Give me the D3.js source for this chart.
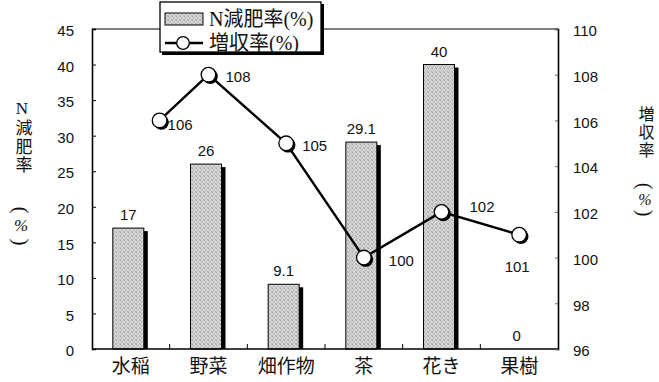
<!DOCTYPE html>
<html>
<head>
<meta charset="utf-8">
<script src="https://cdn.jsdelivr.net/npm/d3@7"></script>
<style>
  html, body { margin: 0; padding: 0; background: #fff; }
  svg { display: block; }
</style>
</head>
<body>
<svg id="chart" width="659" height="382"></svg>
<script>
// Crop categories and the two measured series
const categories = ["水稲", "野菜", "畑作物", "茶", "花き", "果樹"];
const nReduction = [17, 26, 9.1, 29.1, 40, 0];          // N減肥率(%) – bars, left axis
const yieldRate = [106, 108, 105, 100, 102, 101];       // 増収率(%) – line, right axis
const leftTicks = [0, 5, 10, 15, 20, 25, 30, 35, 40, 45];
const rightTicks = [96, 98, 100, 102, 104, 106, 108, 110];
const barLabels = ["17", "26", "9.1", "29.1", "40", "0"];
const lineLabels = ["106", "108", "105", "100", "102", "101"];

const svg = d3.select("#chart");
const m = { left: 92, right: 558, top: 29, bottom: 349 };
const numFont = "'Liberation Sans', Arial, sans-serif";
const jpFont = "'Liberation Serif', 'Noto Sans CJK JP', serif";

const x = d3.scaleBand().domain(categories).range([m.left, m.right]);
const y = d3.scaleLinear().domain([0, 45]).range([m.bottom, m.top]);
const y2 = d3.scaleLinear().domain([96, 110]).range([m.bottom, m.top]);
const bw = x.bandwidth();

// stippled grey fill for the bars (scattered dots on light grey)
const defs = svg.append("defs");
const pat = defs.append("pattern").attr("id", "stipple")
  .attr("patternUnits", "userSpaceOnUse").attr("width", 4).attr("height", 4);
pat.append("rect").attr("width", 4).attr("height", 4).attr("fill", "#d8d8d8");
[[0, 0, "#9c9c9c"], [2, 1, "#b4b4b4"], [1, 2, "#a8a8a8"], [3, 3, "#b0b0b0"], [3, 0, "#c2c2c2"], [0, 3, "#c0c0c0"]]
  .forEach(([px, py, col]) => pat.append("rect").attr("x", px).attr("y", py)
    .attr("width", 1).attr("height", 1).attr("fill", col));

// bars with a dark drop shadow on the right
const barW = 31, shadowW = 4;
const barX = c => x(c) + (bw - barW - shadowW) / 2 - 0.5;
const bars = svg.append("g");
categories.forEach((c, i) => {
  const v = nReduction[i];
  if (v <= 0) return;
  bars.append("rect")
    .attr("x", barX(c) + barW - 1).attr("y", y(v) + 3)
    .attr("width", shadowW + 1).attr("height", y(0) - y(v) - 3)
    .attr("fill", "#000");
  bars.append("rect")
    .attr("x", barX(c)).attr("y", y(v))
    .attr("width", barW).attr("height", y(0) - y(v))
    .attr("fill", "url(#stipple)").attr("stroke", "#000").attr("stroke-width", 1);
});

// value labels over bars
svg.append("g").selectAll("text").data(categories).join("text")
  .attr("x", c => barX(c) + barW / 2)
  .attr("y", (c, i) => y(nReduction[i]) - 8)
  .attr("text-anchor", "middle")
  .attr("font-family", numFont).attr("font-size", 15).attr("fill", "#111")
  .text((c, i) => barLabels[i]);

// frame and axes
const frame = svg.append("g").attr("fill", "none").attr("stroke", "#000");
frame.append("line").attr("x1", m.left).attr("x2", m.right).attr("y1", m.top).attr("y2", m.top).attr("stroke-width", 1.2);
frame.append("line").attr("x1", m.left).attr("x2", m.right).attr("y1", m.bottom).attr("y2", m.bottom).attr("stroke-width", 1.6);

const leftAxis = svg.append("g").attr("transform", `translate(${m.left},0)`)
  .call(d3.axisLeft(y).tickValues(leftTicks).tickSize(-4).tickPadding(18).tickFormat(d3.format("d")));
const rightAxis = svg.append("g").attr("transform", `translate(${m.right},0)`)
  .call(d3.axisRight(y2).tickValues(rightTicks).tickSize(-3).tickPadding(15).tickFormat(d3.format("d")));
[leftAxis, rightAxis].forEach(a => {
  a.select(".domain").attr("stroke", "#000").attr("stroke-width", 1.6);
  a.selectAll(".tick line").attr("stroke", "#000").attr("stroke-width", 1);
  a.selectAll(".tick text").attr("font-family", numFont).attr("font-size", 15).attr("fill", "#111").attr("dy", "0.45em");
});
rightAxis.selectAll(".tick line").attr("stroke", "#666");

// category axis: short upward ticks between groups
const xAxis = svg.append("g").attr("transform", `translate(0,${m.bottom})`)
  .call(d3.axisBottom(x).tickSize(0).tickPadding(10));
xAxis.select(".domain").remove();
xAxis.selectAll(".tick text").attr("font-family", "'Noto Sans CJK JP', sans-serif")
  .attr("font-size", 19).attr("fill", "#111").attr("dy", "0.75em");
svg.append("g").selectAll("line").data(categories.slice(1)).join("line")
  .attr("x1", c => x(c)).attr("x2", c => x(c))
  .attr("y1", m.bottom).attr("y2", m.bottom - 5)
  .attr("stroke", "#000").attr("stroke-width", 1);

// yield line (first point sits a little right of its group)
const pointNudge = [0.37, 0, 0, 0, 0, 0];
const px = i => x(categories[i]) + bw / 2 + pointNudge[i] * bw;
const pts = yieldRate.map((v, i) => [px(i), y2(v)]);
svg.append("path").attr("d", d3.line()(pts))
  .attr("fill", "none").attr("stroke", "#000").attr("stroke-width", 2.4);
const dots = svg.append("g");
pts.forEach(p => {
  dots.append("circle").attr("cx", p[0] + 1.8).attr("cy", p[1] + 1.8).attr("r", 7.5).attr("fill", "#000");
  dots.append("circle").attr("cx", p[0]).attr("cy", p[1]).attr("r", 7.3)
    .attr("fill", "#fff").attr("stroke", "#000").attr("stroke-width", 1.3);
});

// yield labels, placed beside their points
const labelOffset = [[8, 4, "start"], [17, 2, "start"], [16, 2, "start"], [25, 3, "start"], [28, -5, "start"], [-2, 32, "middle"]];
svg.append("g").selectAll("text").data(pts).join("text")
  .attr("x", (p, i) => p[0] + labelOffset[i][0])
  .attr("y", (p, i) => p[1] + labelOffset[i][1])
  .attr("dy", "0.36em")
  .attr("text-anchor", (p, i) => labelOffset[i][2])
  .attr("font-family", numFont).attr("font-size", 15).attr("fill", "#111")
  .text((p, i) => lineLabels[i]);

// vertical axis titles: stacked characters, then "(%)" with the brackets turned
function verticalTitle(str, cx, top, size, spacing) {
  svg.append("text").attr("x", cx).attr("y", top)
    .style("writing-mode", "vertical-rl").style("text-orientation", "upright")
    .attr("letter-spacing", spacing)
    .attr("font-family", jpFont).attr("font-size", size).attr("fill", "#111")
    .text(str);
}
function percentUnit(cx, yOpen, yPct, yClose, size) {
  const g = svg.append("g").attr("font-family", "'Liberation Serif', serif").attr("fill", "#111");
  g.append("text").attr("transform", `translate(${cx},${yOpen}) rotate(90)`)
    .attr("text-anchor", "middle").attr("dominant-baseline", "central")
    .attr("font-size", size * 1.25).text("(");
  g.append("text").attr("x", cx).attr("y", yPct)
    .attr("text-anchor", "middle").attr("dominant-baseline", "central")
    .attr("font-size", size).attr("font-style", "italic").text("%");
  g.append("text").attr("transform", `translate(${cx},${yClose}) rotate(90)`)
    .attr("text-anchor", "middle").attr("dominant-baseline", "central")
    .attr("font-size", size * 1.25).text(")");
}
verticalTitle("N減肥率", 22, 99, 17, 1.5);
percentUnit(21, 210, 225, 242, 17);
verticalTitle("増収率", 645, 106, 16, 2);
percentUnit(645, 186, 199, 213, 16);

// legend
const lg = svg.append("g");
lg.append("rect").attr("x", 162).attr("y", 4).attr("width", 162).attr("height", 51).attr("fill", "#000");
lg.append("rect").attr("x", 160).attr("y", 2).attr("width", 161).attr("height", 50)
  .attr("fill", "#fff").attr("stroke", "#000").attr("stroke-width", 1.3);
lg.append("rect").attr("x", 165).attr("y", 13).attr("width", 38).attr("height", 12)
  .attr("fill", "url(#stipple)").attr("stroke", "#000").attr("stroke-width", 1);
lg.append("line").attr("x1", 165).attr("x2", 203).attr("y1", 43).attr("y2", 43)
  .attr("stroke", "#000").attr("stroke-width", 2.4);
lg.append("circle").attr("cx", 183).attr("cy", 43).attr("r", 6.3)
  .attr("fill", "#fff").attr("stroke", "#000").attr("stroke-width", 1.3);
lg.append("text").attr("x", 209).attr("y", 19).attr("dominant-baseline", "central")
  .attr("font-family", jpFont).attr("font-size", 20).attr("fill", "#111").text("N減肥率(%)");
lg.append("text").attr("x", 209).attr("y", 43).attr("dominant-baseline", "central")
  .attr("font-family", jpFont).attr("font-size", 20).attr("fill", "#111").text("増収率(%)");
</script>
</body>
</html>
